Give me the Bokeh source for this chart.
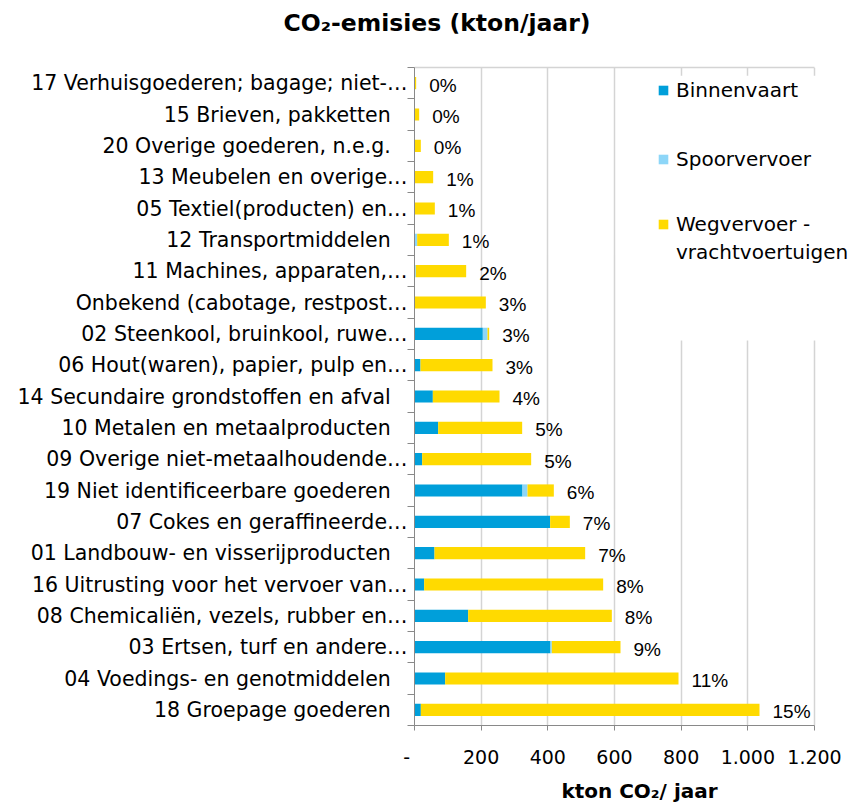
from bokeh.plotting import figure
from bokeh.models import (ColumnDataSource, FixedTicker, Legend, LegendItem,
                          BoxAnnotation, LinearAxis)
from bokeh.core.properties import value
from bokeh.embed import file_html
from bokeh.resources import INLINE

# ---- data (top to bottom as shown) ----
categories = [
    "17 Verhuisgoederen; bagage; niet-\u2026",
    "15 Brieven, pakketten\u2002\u00a0",
    "20 Overige goederen, n.e.g.\u2002\u00a0",
    "13 Meubelen en overige\u2026",
    "05 Textiel(producten) en\u2026",
    "12 Transportmiddelen\u2002\u00a0",
    "11 Machines, apparaten,\u2026",
    "Onbekend (cabotage, restpost\u2026",
    "02 Steenkool, bruinkool, ruwe\u2026",
    "06 Hout(waren), papier, pulp en\u2026",
    "14 Secundaire grondstoffen en afval\u2002\u00a0",
    "10 Metalen en metaalproducten\u2002\u00a0",
    "09 Overige niet-metaalhoudende\u2026",
    "19 Niet identificeerbare goederen\u2002\u00a0",
    "07 Cokes en geraffineerde\u2026",
    "01 Landbouw- en visserijproducten\u2002\u00a0",
    "16 Uitrusting voor het vervoer van\u2026",
    "08 Chemicali\u00ebn, vezels, rubber en\u2026",
    "03 Ertsen, turf en andere\u2026",
    "04 Voedings- en genotmiddelen\u2002\u00a0",
    "18 Groepage goederen\u2002\u00a0",
]
binnenvaart = [0, 0, 0, 0, 0, 0, 0, 0, 205, 18, 55, 71, 23, 324, 407, 60, 29, 161, 408, 92, 19]
spoorvervoer = [0, 0, 0, 0, 0, 8, 4, 0, 14, 0, 0, 0, 0, 15, 0, 0, 0, 0, 4, 0, 0]
wegvervoer = [5, 14, 19, 56, 61, 95, 151, 214, 5, 216, 200, 252, 327, 79, 59, 452, 537, 431, 206, 700, 1016]
percentages = ["0%", "0%", "0%", "1%", "1%", "1%", "2%", "3%", "3%", "3%", "4%",
               "5%", "5%", "6%", "7%", "7%", "8%", "8%", "9%", "11%", "15%"]
series_names = ["Binnenvaart", "Spoorvervoer", "Wegvervoer -", "vrachtvoertuigen"]
series_colors = ["#009FDA", "#8DD6F8", "#FFDA00"]
x_ticks = [0, 200, 400, 600, 800, 1000, 1200]
x_tick_labels = ["-\u2002\u00a0", "200", "400", "600", "800", "1.000", "1.200"]
title_text = "CO\u2082-emisies (kton/jaar)"
x_label = "kton CO\u2082/ jaar"

n = len(categories)
ypos = [n - 1 - i for i in range(n)]
totals = [b + s + w for b, s, w in zip(binnenvaart, spoorvervoer, wegvervoer)]

src = ColumnDataSource(dict(y=ypos, binnenvaart=binnenvaart, spoor=spoorvervoer,
                            weg=wegvervoer, total=totals, pct=percentages))

FONT = "DejaVu Sans"
GRAY = "#898989"
GRID = "#D4D4D4"
X_MAX = x_ticks[-1]

p = figure(frame_width=450, frame_height=658, x_range=(0, X_MAX * 450 / 400),
           y_range=(-0.5, n - 0.5),
           output_backend="svg", toolbar_location=None,
           min_border_left=414, min_border_right=0, min_border_top=67, min_border_bottom=77)
p.outline_line_color = None
p.background_fill_color = "white"

xa = p.below[0]
ya = p.left[0]

# title (extra empty line keeps it high above the plot)
p.title.text = title_text + "\n"
p.title.align = "left"
p.title.offset = -131
p.title.text_font = FONT
p.title.text_font_size = "23.5px"
p.title.text_font_style = "bold"
p.title.text_color = "black"
p.title.standoff = 6

# x axis
x_ticker = FixedTicker(ticks=x_ticks)
xa.ticker = x_ticker
xa.bounds = (0, X_MAX)
xa.major_label_overrides = {t: l for t, l in zip(x_ticks, x_tick_labels)}
xa.minor_tick_line_color = None
xa.major_tick_in = 0
xa.major_tick_out = 5
xa.major_tick_line_color = GRAY
xa.axis_line_color = GRAY
xa.major_label_standoff = 15
xa.major_label_text_font = FONT
xa.major_label_text_font_size = "19px"
xa.major_label_text_color = "black"
xa.axis_label = x_label
xa.axis_label_text_font = FONT
xa.axis_label_text_font_size = "20px"
xa.axis_label_text_font_style = "bold"
xa.axis_label_text_color = "black"
xa.axis_label_standoff = 8

# y axis
ya.ticker = FixedTicker(ticks=ypos, minor_ticks=[k - 0.5 for k in range(n + 1)])
ya.major_label_overrides = {y: c for y, c in zip(ypos, categories)}
ya.major_tick_line_color = None
ya.major_tick_in = 0
ya.major_tick_out = 0
ya.minor_tick_in = 0
ya.minor_tick_out = 7
ya.minor_tick_line_color = GRAY
ya.axis_line_color = GRAY
ya.major_label_standoff = 0
ya.major_label_text_font = FONT
ya.major_label_text_font_size = "20.5px"
ya.major_label_text_color = "black"

# grid
p.ygrid.visible = False
p.xgrid.ticker = x_ticker
p.xgrid.grid_line_color = GRID
p.xgrid.grid_line_width = 1.5

# top border line limited to the value axis extent
top_axis = LinearAxis(ticker=FixedTicker(ticks=[0]), bounds=(0, X_MAX),
                      major_label_overrides={0: ""},
                      axis_line_color=GRID, axis_line_width=1.5,
                      major_tick_line_color=None, minor_tick_line_color=None,
                      major_tick_in=0, major_tick_out=0, minor_tick_in=0, minor_tick_out=0,
                      major_label_standoff=0, major_label_text_font_size="1px")
p.add_layout(top_axis, "above")

# white area behind legend (hides grid lines as in the original)
p.add_layout(BoxAnnotation(left=700, right=1260, top=20.24, bottom=11.79,
                           fill_color="white", fill_alpha=1, line_color=None, level="underlay"))

# bars
renderers = p.hbar_stack(["binnenvaart", "spoor", "weg"], y="y", height=0.39,
                         color=series_colors, line_color=None, source=src)
dummy = p.hbar(y=[], right=[], height=0.39, fill_alpha=0, line_alpha=0)

# percentage labels
p.text(x="total", y="y", text="pct", source=src, x_offset=13, y_offset=2,
       text_align="left", text_baseline="middle", text_font=value("Liberation Sans"),
       text_font_size="19px", text_color="black")

# legends
common = dict(orientation="vertical", glyph_width=12, glyph_height=12, label_standoff=7,
              padding=0, margin=0, background_fill_alpha=0, border_line_color=None,
              label_text_font=FONT, label_text_font_size="20px", label_text_color="black")
leg_a = Legend(items=[LegendItem(label=series_names[0], renderers=[renderers[0]]),
                      LegendItem(label=series_names[1], renderers=[renderers[1]])],
               location=(243, 554), spacing=45, **common)
leg_b = Legend(items=[LegendItem(label=series_names[2], renderers=[renderers[2]]),
                      LegendItem(label=series_names[3], renderers=[dummy])],
               location=(243, 461), spacing=4, **common)
p.add_layout(leg_a)
p.add_layout(leg_b)

open("out.html", "w").write(file_html(p, INLINE))
